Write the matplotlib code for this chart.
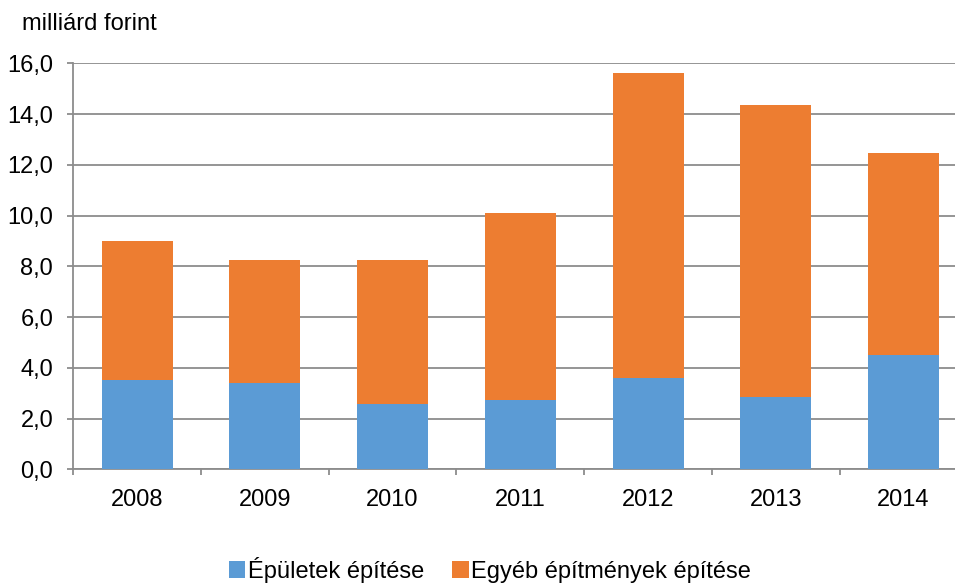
import numpy as np
import matplotlib
matplotlib.use("Agg")
import matplotlib.pyplot as plt
from matplotlib.patches import Patch

years = ["2008", "2009", "2010", "2011", "2012", "2013", "2014"]
epuletek = [3.50, 3.42, 2.58, 2.72, 3.58, 2.83, 4.50]
egyeb = [5.51, 4.83, 5.67, 7.38, 12.04, 11.51, 7.97]

BLUE = "#5B9BD5"
ORANGE = "#ED7D31"
GRID = "#8C8C8C"
FS = 17

plt.rcParams["font.family"] = ["Liberation Sans", "DejaVu Sans"]

fig = plt.figure(figsize=(9.55, 5.84), dpi=100)
W, H = 955, 584
left, right = 73.3, 967.3
bottom, top = 469.3, 63.3
ax = fig.add_axes([left / W, 1 - bottom / H, (right - left) / W, (bottom - top) / H])

x = np.arange(len(years))
ax.bar(x, epuletek, width=0.556, color=BLUE, zorder=3)
ax.bar(x, egyeb, width=0.556, bottom=epuletek, color=ORANGE, zorder=3)

ax.set_xlim(-0.5, len(years) - 0.5)
ax.set_ylim(0, 16)
yt = np.arange(0, 16.1, 2)
ax.set_yticks(yt)
ax.set_yticklabels([f"{v:.1f}".replace(".", ",") for v in yt])
ax.set_xticks(x)
ax.set_xticklabels(years)
ax.set_xticks(np.arange(-0.5, len(years)), minor=True)

ax.grid(True, axis="y", color=GRID, linewidth=1.3, zorder=0)
ax.tick_params(axis="y", length=4, width=1.3, color=GRID, labelsize=FS, pad=10.5)
ax.tick_params(axis="x", which="major", length=0, labelsize=FS, pad=14)
ax.tick_params(axis="x", which="minor", length=4, width=1.3, color=GRID)
for s in ["top", "right"]:
    ax.spines[s].set_visible(False)
for s in ["left", "bottom"]:
    ax.spines[s].set_color(GRID)
    ax.spines[s].set_linewidth(1.3)

fig.text(22 / W, 1 - 24 / H, "milliárd forint", fontsize=FS, va="center", ha="left")

# legend sits at the very bottom edge, as in the original
handles = [Patch(facecolor=BLUE, label="Épületek építése"),
           Patch(facecolor=ORANGE, label="Egyéb építmények építése")]
fig.legend(handles=handles, loc="center", bbox_to_anchor=(490 / W, 1 - 570 / H),
           ncol=2, frameon=False, fontsize=FS, handlelength=0.7, handleheight=0.7,
           handletextpad=0.1, columnspacing=1.2, borderaxespad=0, borderpad=0)

fig.savefig("out.png", dpi=100)
